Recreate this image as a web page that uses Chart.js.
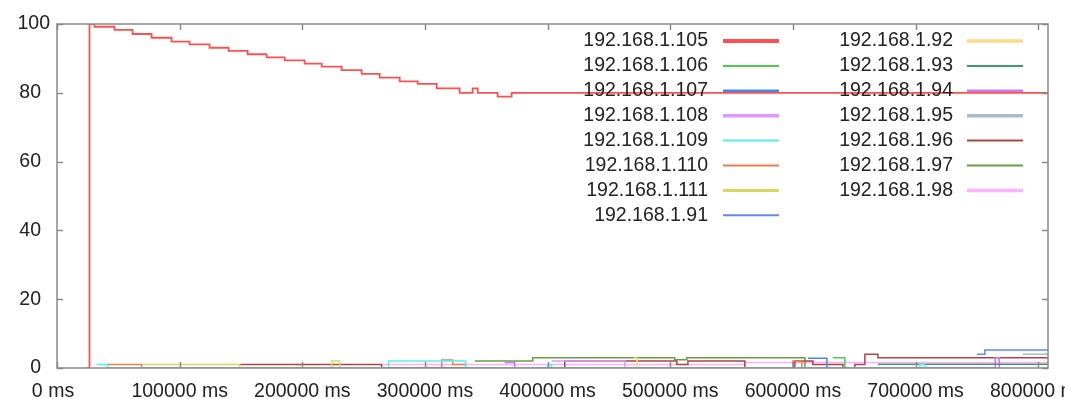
<!DOCTYPE html>
<html>
<head>
<meta charset="utf-8">
<script src="https://cdn.jsdelivr.net/npm/chart.js@4.4.0/dist/chart.umd.min.js"></script>
<style>
  html, body { margin: 0; padding: 0; background: #fff; }
  #wrap { width: 1065px; height: 399px; position: relative; }
</style>
</head>
<body>
<div id="wrap"><canvas id="chart"></canvas></div>
<script>
// legend order: left column then right column
const hosts = ['192.168.1.105', '192.168.1.106', '192.168.1.107', '192.168.1.108',
    '192.168.1.109', '192.168.1.110', '192.168.1.111', '192.168.1.91',
    '192.168.1.92', '192.168.1.93', '192.168.1.94', '192.168.1.95',
    '192.168.1.96', '192.168.1.97', '192.168.1.98'];
const colors = ['#ff5050', '#4ccc4c', '#4488ee', '#dd99ff', '#55eeee', '#e8804f', '#d8d860', '#6688ee',
    '#ffd98a', '#3f9a6a', '#cc77ee', '#aabbcc', '#b04444', '#66a040', '#ffb0ff'];
const legendWidths = [4, 2, 2.5, 3.5, 2, 2, 3, 2, 3.5, 2, 2.5, 3.5, 2, 2, 3.5];

const xTicks = [0, 100000, 200000, 300000, 400000, 500000, 600000, 700000, 800000];
const yTicks = [0, 20, 40, 60, 80, 100];
const X_MAX = 808000;

// [time ms, value] pairs, step-held until the next pair
const ip105 = [[24500, 0], [26500, 100], [30600, 99.2], [46900, 98.3], [61600, 97.1], [77100, 96.0],
    [93400, 94.9], [108100, 94.1], [124400, 93.1], [139900, 92.2], [155400, 91.2], [170900, 90.3],
    [185600, 89.4], [201900, 88.5], [215800, 87.6], [232100, 86.6], [248400, 85.5], [263100, 84.4],
    [279400, 83.3], [294100, 82.6], [309600, 81.3], [328300, 80], [338900, 81.3], [343000, 80],
    [359300, 78.9], [370700, 80], [808000, 80]];
const ip106 = [[632600, 3], [642400, 0]];
const ip107 = [[612200, 2.8], [627700, 0]];
const ip108 = [[403300, 2], [463000, 0]];
const ip109 = [[32200, 1], [41200, 0], [270400, 2], [333200, 0], [400100, 1], [403300, 0], [703500, 1], [707600, 0]];
const ip110 = [[41200, 1], [68900, 0], [313700, 2.3], [322600, 1], [333200, 0], [600000, 2], [607300, 0]];
const ip111 = [[68900, 1], [148900, 0], [223900, 2], [230400, 0]];
const ip91 = [[750000, 4], [756500, 5.2], [808000, 5.2]];
const ip92 = [[469800, 2.8], [473000, 0]];
const ip93 = [[669300, 1.1], [808000, 1.1]];
const ip94 = [[365000, 1.6], [373200, 0], [765000, 3], [768300, 0]];
const ip95 = [[787600, 4], [808000, 4]];
const ip96 = [[148900, 1], [264700, 0], [414000, 2], [505400, 1], [514400, 2], [560800, 0], [601600, 2],
    [616300, 1], [640800, 0], [650500, 1], [658700, 4], [669300, 3], [808000, 3]];
const ip97 = [[340600, 2], [387900, 3], [503700, 2.4], [513500, 3], [609800, 0]];
const ip98 = [[265500, 1], [560800, 1.6], [808000, 1.6]];

const series = [ip105, ip106, ip107, ip108, ip109, ip110, ip111, ip91,
    ip92, ip93, ip94, ip95, ip96, ip97, ip98];

const FONT = '19.5px "Liberation Sans", Arial, sans-serif';

const framePlugin = {
    id: 'frame',
    afterDatasetsDraw(chart) {
        const { ctx, chartArea: a, scales: { x, y } } = chart;
        ctx.save();

        // border box with inward ticks on all sides
        ctx.strokeStyle = '#8a8a8a';
        ctx.lineWidth = 1.5;
        ctx.strokeRect(a.left, a.top, a.right - a.left, a.bottom - a.top);
        ctx.beginPath();
        xTicks.forEach(v => {
            const px = Math.round(x.getPixelForValue(v)) + 0.5;
            ctx.moveTo(px, a.bottom); ctx.lineTo(px, a.bottom - 6);
            ctx.moveTo(px, a.top); ctx.lineTo(px, a.top + 6);
        });
        yTicks.forEach(v => {
            const py = Math.round(y.getPixelForValue(v)) + 0.5;
            ctx.moveTo(a.left, py); ctx.lineTo(a.left + 6, py);
            ctx.moveTo(a.right, py); ctx.lineTo(a.right - 6, py);
        });
        ctx.stroke();

        // tick labels
        ctx.font = FONT;
        ctx.fillStyle = '#222';
        ctx.textBaseline = 'middle';
        ctx.textAlign = 'center';
        xTicks.forEach(v => ctx.fillText(v + ' ms', x.getPixelForValue(v) - (v === 0 ? 4 : 0), 392));
        ctx.textAlign = 'right';
        yTicks.forEach(v => ctx.fillText(String(v), a.left - (v === 100 ? 7 : 16), y.getPixelForValue(v)));

        // legend: text right-aligned, sample line to the right
        chart.data.datasets.forEach((ds, i) => {
            const col = i < 8 ? 0 : 1;
            const row = col === 0 ? i : i - 8;
            const yy = 41 + row * 24.9;
            const textRight = col === 0 ? 708 : 953;
            const lineLeft = col === 0 ? 723 : 967;
            ctx.fillStyle = '#222';
            ctx.fillText(ds.label, textRight, yy);
            ctx.strokeStyle = ds.borderColor;
            ctx.lineWidth = legendWidths[i];
            ctx.beginPath();
            ctx.moveTo(lineLeft, yy);
            ctx.lineTo(lineLeft + 56, yy);
            ctx.stroke();
        });
        ctx.restore();
    }
};

new Chart(document.getElementById('chart').getContext('2d'), {
    type: 'line',
    data: {
        datasets: hosts.map((h, i) => ({
            label: h,
            data: series[i].map(([t, v]) => ({ x: t, y: v })),
            borderColor: colors[i],
            borderWidth: i === 0 ? 1.8 : 1.5,
            pointRadius: 0,
            stepped: true,
            fill: false
        }))
    },
    options: {
        responsive: true,
        maintainAspectRatio: false,
        animation: false,
        events: [],
        layout: { padding: { left: 57, right: 17, top: 24, bottom: 31 } },
        plugins: {
            legend: { display: false },
            tooltip: { enabled: false },
            title: { display: false }
        },
        scales: {
            x: { type: 'linear', display: false, min: 0, max: X_MAX },
            y: { type: 'linear', display: false, min: 0, max: 100 }
        }
    },
    plugins: [framePlugin]
});
</script>
</body>
</html>
